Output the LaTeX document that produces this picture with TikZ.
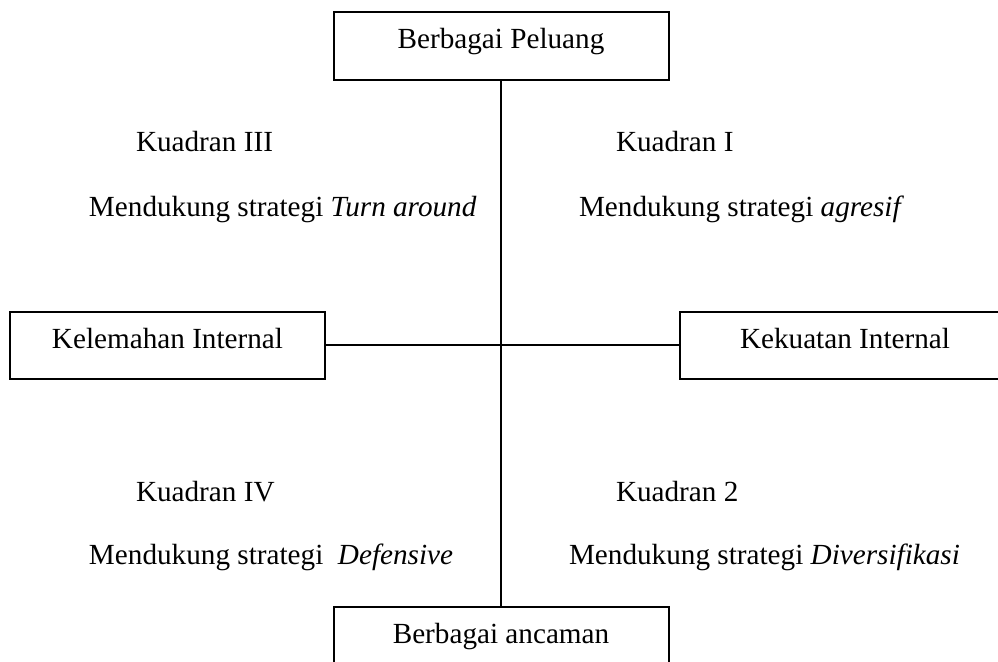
\documentclass[tikz,border=0pt]{standalone}
\usepackage{fontspec}
\setmainfont{Liberation Serif}
\begin{document}
\begin{tikzpicture}[x=0.5pt, y=-0.5pt, line width=1pt,
		every node/.style={font=\fontsize{14.6}{17}\selectfont},
		kotak/.style={draw, rectangle, inner sep=0pt, text height=0.68em, text depth=0.42em},
		teks/.style={anchor=base west, inner sep=0pt}]
	\useasboundingbox (0,0) rectangle (998,662);
	
	% 1. kotak faktor
	\node[kotak, minimum width=167.5pt, minimum height=34pt] (peluang) at (501,46) {Berbagai Peluang};
	\node[kotak, minimum width=167.5pt, minimum height=33.5pt] (ancaman) at (501,640.5) {Berbagai ancaman};
	\node[kotak, minimum width=157.5pt, minimum height=33.5pt] (lemah) at (167.5,345.5) {Kelemahan Internal};
	\node[kotak, minimum width=165pt, minimum height=33.5pt] (kuat) at (845,345.5) {Kekuatan Internal};
	
	% 2. sumbu
	\draw (peluang.south) -- (ancaman.north);
	\draw (lemah.east) -- (kuat.west);
	
	% 3. kuadran
	\node[teks] (k3) at (135,152) {Kuadran III};
	\node[teks] (s3) at (88,217) {Mendukung strategi \textit{Turn around}};
	\node[teks] (k1) at (615,152) {Kuadran I};
	\node[teks] (s1) at (578,217) {Mendukung strategi \textit{agresif}};
	\node[teks] (k4) at (135,502) {Kuadran IV};
	\node[teks] (s4) at (88,565) {Mendukung strategi \ \textit{Defensive}};
	\node[teks] (k2) at (615,502) {Kuadran 2};
	\node[teks] (s2) at (568,565) {Mendukung strategi \textit{Diversifikasi}};
\end{tikzpicture}
\end{document}
